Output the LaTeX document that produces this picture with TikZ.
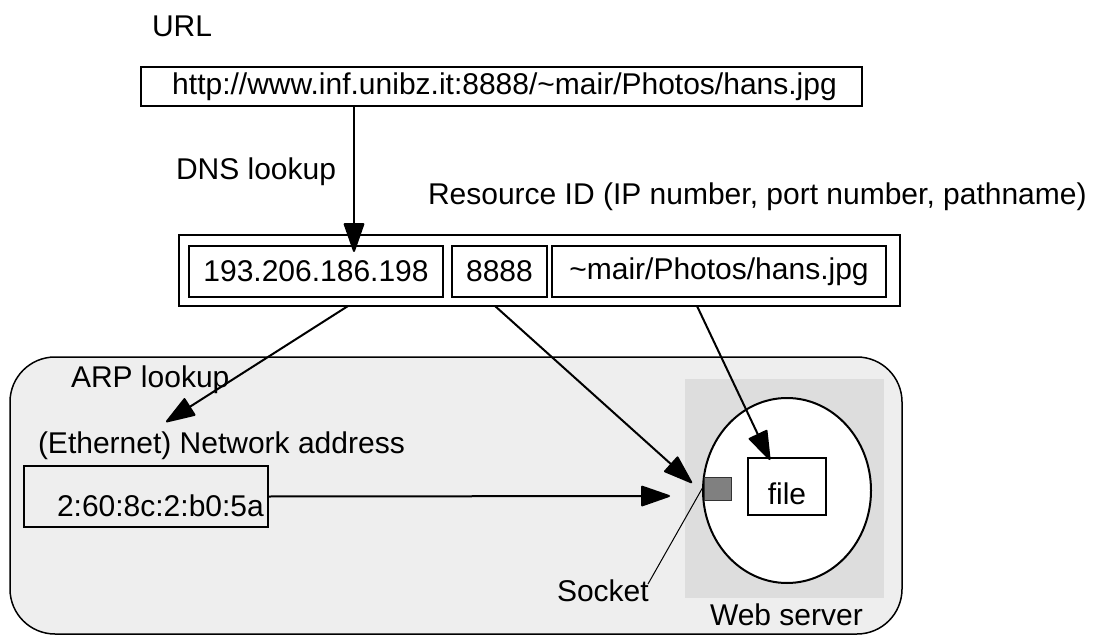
\documentclass[tikz,border=0pt]{standalone}
\usepackage{fontspec}
\setmainfont{Liberation Sans}
\usetikzlibrary{arrows.meta,shapes.geometric}
\definecolor{lanfill}{HTML}{EEEEEE}
\definecolor{wsfill}{HTML}{DDDDDD}
\definecolor{sockfill}{HTML}{808080}
\begin{document}
\begin{tikzpicture}[x=1pt,y=-1pt,
  every node/.style={font=\fontsize{30}{36}\selectfont, inner sep=0pt, outer sep=0pt},
  box/.style={draw, line width=2pt},
  lbl/.style={anchor=base west},
  arr/.style={line width=2pt, -{Triangle[length=31pt,width=21pt,round]}},
]
\useasboundingbox (0,0) rectangle (1094,636);

% LAN area
\node[draw, line width=1.5pt, fill=lanfill, rounded corners=45pt,
      minimum width=892pt, minimum height=277pt, anchor=north west] (lan) at (10,357) {};
% web server area
\node[fill=wsfill, minimum width=199pt, minimum height=219pt, anchor=north west] (ws) at (685,379) {};
\node[ellipse, box, fill=white, minimum width=168pt, minimum height=185pt] (srv) at (787,490.5) {};
\node[box, fill=white, minimum width=78pt, minimum height=57pt, text height=35pt, text depth=0pt] (file) at (787,486.5) {file};
\node[draw=black!80, line width=1pt, fill=sockfill, minimum width=27pt, minimum height=23pt, anchor=north west] (sock) at (704,477) {};

% URL
\node[lbl] (urllbl) at (152,37) {URL};
\node[box, minimum width=721pt, minimum height=39pt] (url) at (501.5,86.5) {\hspace*{6pt}http://www.inf.unibz.it:8888/\textasciitilde mair/Photos/hans.jpg};

\node[lbl] (dns) at (176,180) {DNS lookup};
\node[lbl] (resid) at (428,205) {Resource ID (IP number, port number, pathname)};

% resource id boxes
\node[box, minimum width=721pt, minimum height=71pt] (rid) at (539.5,270.5) {};
\node[box, minimum width=254pt, minimum height=51pt] (ip) at (316,271.5) {193.206.186.198};
\node[box, minimum width=95pt, minimum height=51pt] (port) at (499.5,271.5) {8888};
\node[box, minimum width=334pt, minimum height=51pt] (path) at (719,271.5) {\textasciitilde mair/Photos/hans.jpg};

% ethernet
\node[lbl] (arp) at (71,387) {ARP lookup};
\node[lbl] (eth) at (38,453) {(Ethernet) Network address};
\node[box, minimum width=244pt, minimum height=61pt, anchor=north west] (addr) at (24,466) {};
\node[lbl] (addrtxt) at (57,516) {2:60:8c:2:b0:5a};

\node[lbl] (socklbl) at (557,601) {Socket};
\node[lbl] (wslbl) at (710,625) {Web server};

% connector end points
\coordinate (dnsS) at (354,106);
\coordinate (dnsE) at (354,252);
\coordinate (arpS) at (348,306);
\coordinate (arpE) at (166,422);
\coordinate (portS) at (495,306);
\coordinate (portE) at (692,483);
\coordinate (pathS) at (697,306);
\coordinate (pathE) at (770,460);
\coordinate (macE) at (670,496);
\coordinate (sockP) at (703,487);
\coordinate (sockL) at (648,584);

\draw[arr] (dnsS) -- (dnsE);
\draw[arr] (arpS) -- (arpE);
\draw[arr] (portS) -- (portE);
\draw[arr] (pathS) -- (pathE);
\draw[arr] (addr.east) -- (macE);
\draw[line width=1pt] (sockP) -- (sockL);
\end{tikzpicture}
\end{document}
